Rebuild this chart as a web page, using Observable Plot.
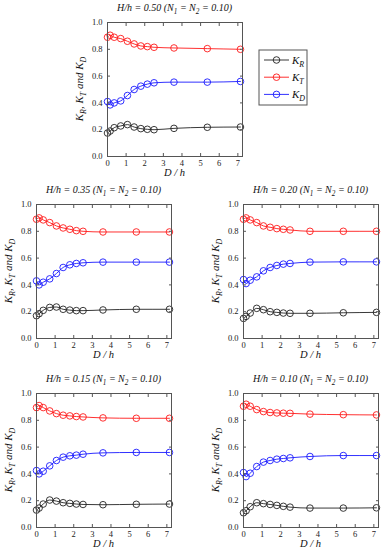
<!DOCTYPE html>
<html><head><meta charset="utf-8">
<script src="https://cdn.jsdelivr.net/npm/d3@7"></script>
<script src="https://cdn.jsdelivr.net/npm/@observablehq/plot@0.6"></script>
<style>
html,body{margin:0;padding:0;background:#fff;}
#root{position:relative;width:385px;height:550px;overflow:hidden;background:#fff;font-family:"Liberation Serif","Times New Roman",serif;}
#root svg{position:absolute;}
#root svg text{font-family:"Liberation Serif","Times New Roman",serif;}
</style></head><body><div id="root"></div>
<script>
// D/h positions
const dOverH = [0, 0.14, 0.36, 0.71, 1.07, 1.43, 1.79, 2.14, 2.5, 3.57, 5.36, 7.14];
const xTicks = [0, 1, 2, 3, 4, 5, 6, 7];
const yTicks = [0, 0.2, 0.4, 0.6, 0.8, 1.0];
const seriesNames = ["K_R", "K_T", "K_D"];
const seriesColors = ["#222222", "#ff1a1a", "#1a1aff"];
const panelHh = ["0.50", "0.35", "0.20", "0.15", "0.10"];

// H/h = 0.50
const KR_050 = [0.175, 0.19, 0.215, 0.228, 0.238, 0.22, 0.208, 0.203, 0.2, 0.21, 0.218, 0.22];
const KT_050 = [0.89, 0.905, 0.89, 0.88, 0.86, 0.84, 0.825, 0.82, 0.815, 0.81, 0.805, 0.80];
const KD_050 = [0.41, 0.385, 0.40, 0.415, 0.455, 0.50, 0.525, 0.54, 0.55, 0.555, 0.555, 0.56];
// H/h = 0.35
const KR_035 = [0.17, 0.185, 0.21, 0.232, 0.235, 0.218, 0.212, 0.208, 0.208, 0.213, 0.218, 0.218];
const KT_035 = [0.89, 0.90, 0.885, 0.865, 0.84, 0.825, 0.815, 0.805, 0.80, 0.795, 0.795, 0.795];
const KD_035 = [0.43, 0.40, 0.42, 0.445, 0.485, 0.53, 0.55, 0.56, 0.565, 0.57, 0.57, 0.57];
// H/h = 0.20
const KR_020 = [0.15, 0.165, 0.19, 0.225, 0.215, 0.20, 0.195, 0.19, 0.188, 0.188, 0.192, 0.195];
const KT_020 = [0.89, 0.90, 0.885, 0.865, 0.84, 0.83, 0.82, 0.815, 0.81, 0.80, 0.80, 0.80];
const KD_020 = [0.44, 0.41, 0.435, 0.46, 0.505, 0.53, 0.545, 0.555, 0.56, 0.57, 0.572, 0.572];
// H/h = 0.15
const KR_015 = [0.13, 0.145, 0.175, 0.205, 0.197, 0.185, 0.18, 0.175, 0.172, 0.17, 0.173, 0.175];
const KT_015 = [0.895, 0.91, 0.895, 0.87, 0.85, 0.838, 0.833, 0.828, 0.825, 0.818, 0.815, 0.815];
const KD_015 = [0.425, 0.40, 0.42, 0.46, 0.50, 0.525, 0.535, 0.54, 0.547, 0.557, 0.56, 0.56];
// H/h = 0.10
const KR_010 = [0.11, 0.125, 0.155, 0.185, 0.178, 0.172, 0.165, 0.158, 0.152, 0.145, 0.145, 0.147];
const KT_010 = [0.905, 0.92, 0.905, 0.88, 0.865, 0.858, 0.855, 0.853, 0.852, 0.846, 0.842, 0.84];
const KD_010 = [0.41, 0.38, 0.405, 0.455, 0.488, 0.50, 0.51, 0.515, 0.52, 0.53, 0.537, 0.537];

const FONT = '"Liberation Serif", "Times New Roman", serif';
const FW = 135, FH = 134;
const ML = 40, MT = 24, MR = 6, MB = 42;

function rich(textSel, parts, size) {
  let sub = false;
  parts.forEach(p => {
    const isSub = Array.isArray(p);
    const s = isSub ? p[0] : p;
    const t = textSel.append("tspan").text(s);
    if (isSub && !sub) { t.attr("dy", size * 0.3).attr("font-size", size * 0.72); sub = true; }
    else if (!isSub && sub) { t.attr("dy", -size * 0.3); sub = false; }
  });
}

function panel(hh, KR, KT, KD, frameLeft, frameTop) {
  const rows = [];
  dOverH.forEach((x, i) => {
    rows.push({x, y: KR[i], s: "K_R"});
    rows.push({x, y: KT[i], s: "K_T"});
    rows.push({x, y: KD[i], s: "K_D"});
  });
  const plot = Plot.plot({
    width: ML + FW + MR, height: MT + FH + MB,
    marginLeft: ML, marginTop: MT, marginRight: MR, marginBottom: MB,
    style: {fontFamily: FONT, fontSize: "8.5px", color: "#222", background: "transparent", overflow: "visible"},
    x: {domain: [0, 7.25], label: null},
    y: {domain: [0, 1], label: null},
    color: {domain: seriesNames, range: seriesColors},
    marks: [
      Plot.line(rows, {x: "x", y: "y", stroke: "s", z: "s", curve: "monotone-x", strokeWidth: 0.9}),
      Plot.dot(rows, {x: "x", y: "y", stroke: "s", r: 3.3, strokeWidth: 0.9, fill: "none"}),
      Plot.frame({stroke: "#555", strokeWidth: 1}),
      Plot.axisX(xTicks, {anchor: "bottom", tickSize: 0, tickPadding: 3, tickFormat: d3.format("d"), label: null, fontFamily: FONT}),
      Plot.axisY(yTicks, {anchor: "left", tickSize: 0, tickPadding: 5, tickFormat: d3.format(".1f"), label: null, fontFamily: FONT}),
      Plot.axisX(xTicks, {anchor: "bottom", tickSize: -3, tickFormat: () => "", label: null, stroke: "#555"}),
      Plot.axisX(xTicks, {anchor: "top", tickSize: -3, tickFormat: () => "", label: null, stroke: "#555"}),
      Plot.axisY(yTicks, {anchor: "left", tickSize: -3, tickFormat: () => "", label: null, stroke: "#555"}),
      Plot.axisY(yTicks, {anchor: "right", tickSize: -3, tickFormat: () => "", label: null, stroke: "#555"})
    ]
  });
  const svg = d3.select(plot);
  svg.style("left", (frameLeft - ML) + "px").style("top", (frameTop - MT) + "px");
  const tsize = 10;
  const title = svg.append("text").attr("x", ML + FW / 2).attr("y", MT - 11)
    .attr("text-anchor", "middle").attr("font-style", "italic").attr("font-size", tsize)
    .attr("font-family", FONT).attr("fill", "#111");
  rich(title, [`H/h = ${hh} (N`, ["1"], " = N", ["2"], " = 0.10)"], tsize);
  const ysize = 11;
  const ylab = svg.append("text")
    .attr("transform", `translate(${ML - 24},${MT + FH / 2}) rotate(-90)`)
    .attr("text-anchor", "middle").attr("font-style", "italic").attr("font-size", ysize)
    .attr("font-family", FONT).attr("fill", "#111");
  rich(ylab, ["K", ["R"], ", K", ["T"], " and K", ["D"]], ysize);
  svg.append("text").attr("x", ML + FW / 2).attr("y", MT + FH + 20)
    .attr("text-anchor", "middle").attr("font-style", "italic").attr("font-size", 10.5)
    .attr("font-family", FONT).attr("fill", "#111")
    .text("D / h");
  document.getElementById("root").appendChild(plot);
}

panel(panelHh[0], KR_050, KT_050, KD_050, 107, 22);
panel(panelHh[1], KR_035, KT_035, KD_035, 35.7, 204.3);
panel(panelHh[2], KR_020, KT_020, KD_020, 243.3, 204.3);
panel(panelHh[3], KR_015, KT_015, KD_015, 35.7, 392.7);
panel(panelHh[4], KR_010, KT_010, KD_010, 243.3, 392.7);

// Legend
const leg = d3.select("#root").append("svg").attr("width", 52).attr("height", 58)
  .style("left", "258px").style("top", "49px");
leg.append("rect").attr("x", 1).attr("y", 1).attr("width", 48).attr("height", 55)
  .attr("fill", "#fff").attr("stroke", "#555").attr("stroke-width", 1);
seriesNames.forEach((name, i) => {
  const cy = 11 + i * 17.2;
  leg.append("line").attr("x1", 6).attr("x2", 31).attr("y1", cy).attr("y2", cy)
    .attr("stroke", seriesColors[i]).attr("stroke-width", 0.9);
  leg.append("circle").attr("cx", 18.5).attr("cy", cy).attr("r", 3.3)
    .attr("fill", "none").attr("stroke", seriesColors[i]).attr("stroke-width", 0.9);
  const t = leg.append("text").attr("x", 34).attr("y", cy + 3.5)
    .attr("font-family", FONT).attr("font-style", "italic").attr("font-size", 11).attr("fill", "#111");
  rich(t, ["K", [name.split("_")[1]]], 11);
});
</script>
</body></html>
